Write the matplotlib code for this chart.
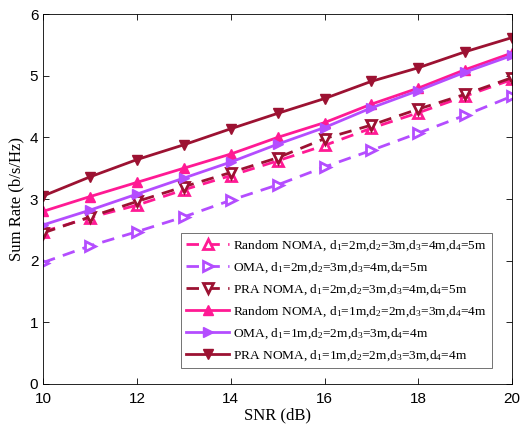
import numpy as np
import matplotlib
matplotlib.use("Agg")
import matplotlib.pyplot as plt

plt.rcParams['font.family'] = ['Liberation Serif', 'DejaVu Serif']
plt.rcParams['mathtext.fontset'] = 'custom'
plt.rcParams['mathtext.rm'] = 'Liberation Serif'
plt.rcParams['mathtext.it'] = 'Liberation Serif'

snr = [10, 11, 12, 13, 14, 15, 16, 17, 18, 19, 20]

# far users (d1=2m ... d4=5m), dashed
random_far = [2.47, 2.70, 2.90, 3.15, 3.38, 3.62, 3.87, 4.15, 4.40, 4.67, 4.94]
oma_far = [1.97, 2.24, 2.47, 2.71, 2.98, 3.23, 3.52, 3.79, 4.07, 4.36, 4.67]
pra_far = [2.45, 2.71, 2.96, 3.20, 3.43, 3.67, 3.98, 4.20, 4.46, 4.70, 4.97]

# near users (d1=1m ... d4=4m), solid
random_near = [2.80, 3.04, 3.27, 3.50, 3.73, 4.00, 4.24, 4.54, 4.80, 5.10, 5.37]
oma_near = [2.58, 2.82, 3.08, 3.34, 3.60, 3.89, 4.16, 4.48, 4.76, 5.06, 5.33]
pra_near = [3.05, 3.36, 3.64, 3.88, 4.14, 4.39, 4.63, 4.91, 5.13, 5.39, 5.62]

labels = [
    r'Random NOMA, d$_1$=2m,d$_2$=3m,d$_3$=4m,d$_4$=5m',
    r'OMA, d$_1$=2m,d$_2$=3m,d$_3$=4m,d$_4$=5m',
    r'PRA NOMA, d$_1$=2m,d$_2$=3m,d$_3$=4m,d$_4$=5m',
    r'Random NOMA, d$_1$=1m,d$_2$=2m,d$_3$=3m,d$_4$=4m',
    r'OMA, d$_1$=1m,d$_2$=2m,d$_3$=3m,d$_4$=4m',
    r'PRA NOMA, d$_1$=1m,d$_2$=2m,d$_3$=3m,d$_4$=4m',
]

pink = '#ff1a94'
purple = '#b44dff'
darkred = '#9c1232'

fig = plt.figure(figsize=(5.2, 4.28), dpi=100)
ax = fig.add_axes([0.083, 0.103, 0.902, 0.864])

dash = (0, (4.5, 3))
ms = 7
ax.plot(snr, random_far, color=pink, ls=dash, lw=2, marker='^', ms=ms,
        mfc='white', mew=2, label=labels[0])
ax.plot(snr, oma_far, color=purple, ls=dash, lw=2, marker='>', ms=ms,
        mfc='white', mew=2, label=labels[1])
ax.plot(snr, pra_far, color=darkred, ls=dash, lw=2, marker='v', ms=ms,
        mfc='white', mew=2, label=labels[2])
ax.plot(snr, random_near, color=pink, ls='-', lw=2, marker='^', ms=ms,
        label=labels[3])
ax.plot(snr, oma_near, color=purple, ls='-', lw=2, marker='>', ms=ms,
        label=labels[4])
ax.plot(snr, pra_near, color=darkred, ls='-', lw=2, marker='v', ms=ms,
        label=labels[5])

ax.set_xlim(10, 20)
ax.set_ylim(0, 6)
ax.set_xticks([10, 12, 14, 16, 18, 20])
ax.set_yticks([0, 1, 2, 3, 4, 5, 6])
ax.tick_params(direction='in', top=True, right=True, length=4, width=0.6,
               labelsize=11)
ax.tick_params(axis='x', pad=6)
for lab in ax.get_xticklabels() + ax.get_yticklabels():
    lab.set_family(['Liberation Sans', 'DejaVu Sans'])
for s in ax.spines.values():
    s.set_linewidth(0.6)

ax.set_xlabel('SNR (dB)', fontsize=12, labelpad=1)
ax.set_ylabel('Sum Rate (b/s/Hz)', fontsize=12, labelpad=4)

leg = ax.legend(loc='lower right', bbox_to_anchor=(0.957, 0.043), fontsize=9.6,
                frameon=True, fancybox=False, edgecolor='#333333',
                handlelength=3.2, labelspacing=0.55, borderpad=0.4,
                handletextpad=0.3, borderaxespad=0)
leg.get_frame().set_linewidth(0.6)

fig.savefig('out.png', dpi=100)
